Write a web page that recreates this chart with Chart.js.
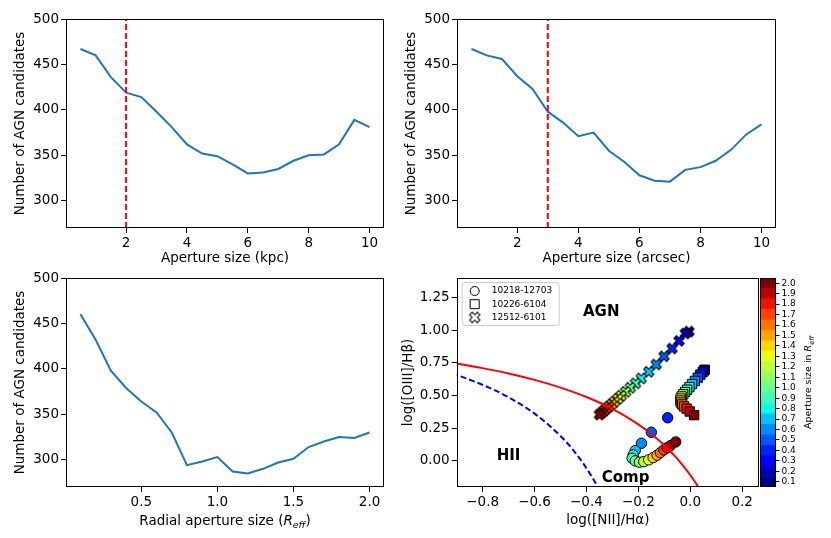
<!DOCTYPE html>
<html lang="en">
<head>
<meta charset="UTF-8">
<title>AGN candidates vs aperture size</title>
<script src="https://cdn.jsdelivr.net/npm/chart.js"></script>
<style>
  html, body { margin: 0; padding: 0; background: #fff; }
  #fig { position: relative; width: 831px; height: 538px; }
  #fig canvas { position: absolute; left: 0; top: 0; }
</style>
</head>
<body>
<div id="fig">
  <canvas id="kpc" width="831" height="538"></canvas>
  <canvas id="arcsec" width="831" height="538"></canvas>
  <canvas id="reff" width="831" height="538"></canvas>
  <canvas id="bpt" width="831" height="538"></canvas>
  <canvas id="cbar" width="831" height="538"></canvas>
</div>
<script>
// --- line panels ---
const kpcSizes = [0.5, 1, 1.5, 2, 2.5, 3, 3.5, 4, 4.5, 5, 5.5, 6, 6.5, 7, 7.5, 8, 8.5, 9, 9.5, 10];
const kpcCounts = [467, 460, 436, 419, 414, 398, 381, 362, 352, 349, 340, 330, 331, 335, 344, 350, 351, 362, 389, 381];
const arcsecSizes = [0.5, 1, 1.5, 2, 2.5, 3, 3.5, 4, 4.5, 5, 5.5, 6, 6.5, 7, 7.5, 8, 8.5, 9, 9.5, 10];
const arcsecCounts = [467, 460, 456, 437, 423, 398, 386, 371, 375, 355, 343, 328, 322, 321, 334, 337, 344, 356, 373, 384];
const reffSizes = [0.1, 0.2, 0.3, 0.4, 0.5, 0.6, 0.7, 0.8, 0.9, 1.0, 1.1, 1.2, 1.3, 1.4, 1.5, 1.6, 1.7, 1.8, 1.9, 2.0];
const reffCounts = [460, 432, 398, 379, 364, 352, 330, 294, 298, 303, 287, 285, 290, 297, 301, 314, 320, 325, 324, 330];
const kpcChosen = 2;
const arcsecChosen = 3;

const countTicks = [300, 350, 400, 450, 500];
const sizeTicks = [2, 4, 6, 8, 10];
const reffTicks = [0.5, 1.0, 1.5, 2.0];

// --- BPT panel ---
const galaxyNames = ['10218-12703', '10226-6104', '12512-6101'];
const apertureLevels = [0.1, 0.2, 0.3, 0.4, 0.5, 0.6, 0.7, 0.8, 0.9, 1.0, 1.1, 1.2, 1.3, 1.4, 1.5, 1.6, 1.7, 1.8, 1.9, 2.0];

const circAper = [0.4, 0.5, 0.6, 0.7, 0.8, 0.9, 1.0, 1.1, 1.2, 1.3, 1.4, 1.5, 1.6, 1.7, 1.8, 1.9, 2.0];
const circN2 = [-0.087, -0.150, -0.188, -0.212, -0.220, -0.224, -0.212, -0.196, -0.179, -0.160, -0.143, -0.128, -0.115, -0.102, -0.089, -0.076, -0.056];
const circO3 = [0.330, 0.219, 0.135, 0.079, 0.046, 0.020, 0.000, -0.010, -0.005, 0.008, 0.025, 0.043, 0.063, 0.084, 0.100, 0.117, 0.145];

const sqAper = [0.1, 0.2, 0.3, 0.4, 0.5, 0.6, 0.7, 0.8, 0.9, 1.0, 1.1, 1.2, 1.3, 1.4, 1.5, 1.6, 1.7, 1.8, 1.9, 2.0];
const sqN2 = [0.056, 0.053, 0.048, 0.039, 0.029, 0.018, 0.007, -0.003, -0.012, -0.020, -0.027, -0.033, -0.037, -0.038, -0.036, -0.031, -0.024, -0.014, -0.002, 0.015];
const sqO3 = [0.698, 0.692, 0.680, 0.660, 0.637, 0.612, 0.588, 0.565, 0.545, 0.527, 0.510, 0.493, 0.477, 0.462, 0.447, 0.432, 0.417, 0.400, 0.378, 0.350];

const crAper = [0.1, 0.2, 0.3, 0.4, 0.5, 0.6, 0.7, 0.8, 0.9, 1.0, 1.1, 1.2, 1.3, 1.4, 1.5, 1.6, 1.7, 1.8, 1.9, 2.0];
const crN2 = [-0.005, -0.019, -0.043, -0.070, -0.101, -0.131, -0.160, -0.189, -0.211, -0.231, -0.249, -0.266, -0.279, -0.292, -0.303, -0.314, -0.323, -0.332, -0.341, -0.350];
const crO3 = [0.990, 0.975, 0.919, 0.860, 0.800, 0.738, 0.682, 0.631, 0.593, 0.560, 0.529, 0.499, 0.476, 0.453, 0.433, 0.415, 0.400, 0.384, 0.369, 0.354];

// demarcation lines
const kewleyN2 = [-0.95, -0.9, -0.8, -0.7, -0.6, -0.5, -0.4, -0.3, -0.2, -0.15, -0.1, -0.05, 0.0, 0.03, 0.04];
const kewleyO3 = [0.762, 0.745, 0.710, 0.669, 0.620, 0.561, 0.489, 0.398, 0.280, 0.206, 0.120, 0.017, -0.108, -0.196, -0.228];
const kauffN2 = [-0.95, -0.9, -0.8, -0.7, -0.6, -0.5, -0.45, -0.4, -0.36, -0.35];
const kauffO3 = [0.693, 0.658, 0.582, 0.487, 0.362, 0.191, 0.080, -0.056, -0.188, -0.226];

const n2Ticks = [-0.8, -0.6, -0.4, -0.2, 0.0, 0.2];
const o3Ticks = [0.0, 0.25, 0.5, 0.75, 1.0, 1.25];
const regionLabels = [
  { text: 'AGN', x: -0.343, y: 1.14 },
  { text: 'HII', x: -0.700, y: 0.04 },
  { text: 'Comp', x: -0.249, y: -0.134 }
];

const FAMILY = "'DejaVu Sans', sans-serif";
Chart.defaults.font.family = FAMILY;
Chart.defaults.font.size = 13.5;
Chart.defaults.color = '#000';
Chart.defaults.animation = false;
Chart.defaults.plugins.legend.display = false;
Chart.defaults.plugins.tooltip.enabled = false;
Chart.defaults.layout.autoPadding = false;

// matplotlib jet, sampled into 20 levels
const JET = {
  r: [[0, 0], [0.35, 0], [0.66, 1], [0.89, 1], [1, 0.5]],
  g: [[0, 0], [0.125, 0], [0.375, 1], [0.64, 1], [0.91, 0], [1, 0]],
  b: [[0, 0.5], [0.11, 1], [0.34, 1], [0.65, 0], [1, 0]]
};
function seg(pts, t) {
  for (let i = 1; i < pts.length; i++) {
    if (t <= pts[i][0]) {
      const [x0, y0] = pts[i - 1], [x1, y1] = pts[i];
      return y0 + (y1 - y0) * (t - x0) / (x1 - x0);
    }
  }
  return pts[pts.length - 1][1];
}
function jet(a) {
  let idx = 0;
  apertureLevels.forEach((v, i) => { if (Math.abs(v - a) < Math.abs(apertureLevels[idx] - a)) idx = i; });
  const t = idx / (apertureLevels.length - 1);
  const c = k => Math.round(255 * seg(JET[k], t));
  return `rgb(${c('r')},${c('g')},${c('b')})`;
}

const markerCache = {};
function xMarker(fill) {
  if (markerCache[fill]) return markerCache[fill];
  const size = 11, dim = 16;
  const c = document.createElement('canvas');
  c.width = c.height = dim;
  const g = c.getContext('2d');
  const v = [[-1, -3], [1, -3], [1, -1], [3, -1], [3, 1], [1, 1], [1, 3], [-1, 3], [-1, 1], [-3, 1], [-3, -1], [-1, -1]];
  g.translate(dim / 2, dim / 2);
  g.rotate(Math.PI / 4);
  g.beginPath();
  v.forEach(([px, py], i) => {
    const X = px / 6 * size, Y = py / 6 * size;
    if (i) g.lineTo(X, Y); else g.moveTo(X, Y);
  });
  g.closePath();
  g.fillStyle = fill;
  g.fill();
  g.lineWidth = 1;
  g.strokeStyle = '#000';
  g.stroke();
  markerCache[fill] = c;
  return c;
}

// --- plugins ---
const frame = {
  id: 'frame',
  afterDraw(chart) {
    const { ctx, chartArea: a } = chart;
    ctx.save();
    ctx.strokeStyle = '#000';
    ctx.lineWidth = 1;
    ctx.strokeRect(Math.round(a.left) + 0.5, Math.round(a.top) + 0.5,
      Math.round(a.right - a.left) - 1, Math.round(a.bottom - a.top) - 1);
    ctx.restore();
  }
};

const chosen = {
  id: 'chosen',
  afterDatasetsDraw(chart, args, opts) {
    if (opts.value == null) return;
    const { ctx, chartArea: a } = chart;
    const x = chart.scales.x.getPixelForValue(opts.value);
    ctx.save();
    ctx.strokeStyle = '#ff0000';
    ctx.lineWidth = 2;
    ctx.setLineDash([6, 3]);
    ctx.beginPath();
    ctx.moveTo(x, a.bottom);
    ctx.lineTo(x, a.top);
    ctx.stroke();
    ctx.restore();
  }
};

function drawRich(ctx, parts, size, cx, cy, rot) {
  ctx.save();
  ctx.translate(cx, cy);
  ctx.rotate(rot || 0);
  const fonts = parts.map(p => `${p.it ? 'italic ' : ''}${p.sub ? size * 0.7 : size}px ${FAMILY}`);
  let w = 0;
  const widths = parts.map((p, i) => { ctx.font = fonts[i]; const m = ctx.measureText(p.t).width; w += m; return m; });
  let x = -w / 2;
  ctx.textBaseline = 'alphabetic';
  ctx.textAlign = 'left';
  ctx.fillStyle = '#000';
  const base = size * 0.36;
  parts.forEach((p, i) => {
    ctx.font = fonts[i];
    ctx.fillText(p.t, x, p.sub ? base + size * 0.22 : base);
    x += widths[i];
  });
  ctx.restore();
}

const richTitle = {
  id: 'richTitle',
  afterDraw(chart, args, opts) {
    if (!opts.parts) return;
    const a = chart.chartArea;
    if (opts.axis === 'x') {
      drawRich(chart.ctx, opts.parts, opts.size, (a.left + a.right) / 2, a.bottom + opts.offset, 0);
    } else {
      drawRich(chart.ctx, opts.parts, opts.size, a.right + opts.offset, (a.top + a.bottom) / 2, -Math.PI / 2);
    }
  }
};

const regions = {
  id: 'regions',
  afterDatasetsDraw(chart) {
    const { ctx } = chart;
    ctx.save();
    ctx.font = `bold 15px ${FAMILY}`;
    ctx.textAlign = 'center';
    ctx.textBaseline = 'middle';
    ctx.fillStyle = '#000';
    regionLabels.forEach(l => {
      ctx.fillText(l.text, chart.scales.x.getPixelForValue(l.x), chart.scales.y.getPixelForValue(l.y));
    });
    ctx.restore();
  }
};

const bptLegend = {
  id: 'bptLegend',
  afterDraw(chart) {
    const { ctx, chartArea: a } = chart;
    const x0 = a.left + 5, y0 = a.top + 4, w = 97, h = 43;
    ctx.save();
    ctx.beginPath();
    ctx.roundRect(x0 + 0.5, y0 + 0.5, w, h, 3);
    ctx.fillStyle = 'rgba(255,255,255,0.8)';
    ctx.fill();
    ctx.strokeStyle = '#cccccc';
    ctx.lineWidth = 1;
    ctx.stroke();
    const styles = ['circle', 'rect', 'x'];
    ctx.font = `9px ${FAMILY}`;
    ctx.textBaseline = 'middle';
    ctx.textAlign = 'left';
    galaxyNames.forEach((name, i) => {
      const mx = x0 + 13, my = y0 + 9 + i * 13.2;
      ctx.fillStyle = '#fff';
      ctx.strokeStyle = '#000';
      ctx.lineWidth = 1;
      if (styles[i] === 'circle') {
        ctx.beginPath(); ctx.arc(mx, my, 4.5, 0, Math.PI * 2); ctx.fill(); ctx.stroke();
      } else if (styles[i] === 'rect') {
        ctx.beginPath(); ctx.rect(mx - 4.5, my - 4.5, 9, 9); ctx.fill(); ctx.stroke();
      } else {
        const m = xMarker('#ffffff');
        ctx.drawImage(m, mx - m.width / 2, my - m.height / 2);
      }
      ctx.fillStyle = '#000';
      ctx.fillText(name, x0 + 30, my);
    });
    ctx.restore();
  }
};

// --- axis helpers ---
function axis(o) {
  return {
    type: 'linear',
    position: o.position || (o.vertical ? 'left' : 'bottom'),
    min: o.min, max: o.max,
    afterBuildTicks: s => { s.ticks = o.ticks.map(v => ({ value: v })); },
    afterFit: s => { if (o.vertical) s.width = o.size; else s.height = o.size; },
    ticks: { padding: 2, callback: o.fmt || (v => String(v)), maxRotation: 0, autoSkip: false, font: o.font },
    grid: { drawOnChartArea: false, drawTicks: true, tickLength: o.tickLength || 5, color: '#000', lineWidth: 1 },
    border: { display: false },
    title: o.title ? { display: true, text: o.title, padding: 0, font: { size: 13.5 } } : { display: false }
  };
}
const minus = v => (v < 0 ? '\u2212' : '') + Math.abs(v).toFixed(1);

function linePanel(id, xs, ys, opts) {
  return new Chart(document.getElementById(id), {
    type: 'scatter',
    data: {
      datasets: [{
        data: xs.map((x, i) => ({ x, y: ys[i] })),
        showLine: true,
        borderColor: '#1f77b4',
        borderWidth: 2,
        pointRadius: 0,
        tension: 0
      }]
    },
    options: {
      responsive: false,
      layout: { padding: opts.padding },
      scales: {
        x: axis({ min: opts.xmin, max: opts.xmax, ticks: opts.xticks, fmt: opts.xfmt, size: opts.xsize, title: opts.xtitle }),
        y: axis({ vertical: true, min: 270, max: 500, ticks: countTicks, size: opts.ysize, title: 'Number of AGN candidates' })
      },
      plugins: {
        chosen: { value: opts.chosen },
        richTitle: opts.rich || {}
      }
    },
    plugins: [frame, chosen, richTitle]
  });
}

linePanel('kpc', kpcSizes, kpcCounts, {
  padding: { left: 12.6, top: 19, right: 447, bottom: 271.6 },
  xmin: 0.025, xmax: 10.475, xticks: sizeTicks, xsize: 38.4, ysize: 53.4,
  xtitle: 'Aperture size (kpc)', chosen: kpcChosen
});

linePanel('arcsec', arcsecSizes, arcsecCounts, {
  padding: { left: 403.6, top: 19, right: 55, bottom: 271.6 },
  xmin: 0.025, xmax: 10.475, xticks: sizeTicks, xsize: 38.4, ysize: 53.4,
  xtitle: 'Aperture size (arcsec)', chosen: arcsecChosen
});

linePanel('reff', reffSizes, reffCounts, {
  padding: { left: 12.6, top: 278, right: 447, bottom: 9.6 },
  xmin: 0.005, xmax: 2.095, xticks: reffTicks, xfmt: v => v.toFixed(1), xsize: 41.4, ysize: 53.4,
  rich: {
    axis: 'x', size: 13.5, offset: 33.3,
    parts: [{ t: 'Radial aperture size (' }, { t: 'R', it: true }, { t: 'eff', it: true, sub: true }, { t: ')' }]
  }
});

// --- BPT diagram ---
function galaxySet(label, n2, o3, aper, style, order) {
  return {
    label, order,
    data: n2.map((x, i) => ({ x, y: o3[i], a: aper[i] })),
    showLine: false,
    pointRadius: style === 'rect' ? 6.6 : 5.2,
    pointStyle: style === 'x' ? (c => (c.raw ? xMarker(jet(c.raw.a)) : 'crossRot')) : style,
    pointBackgroundColor: c => (c.raw ? jet(c.raw.a) : '#fff'),
    pointBorderColor: '#000',
    pointBorderWidth: 1
  };
}

new Chart(document.getElementById('bpt'), {
  type: 'scatter',
  data: {
    datasets: [
      {
        label: 'Kewley', order: 0,
        data: kewleyN2.map((x, i) => ({ x, y: kewleyO3[i] })),
        showLine: true, borderColor: '#ff0000', borderWidth: 2, pointRadius: 0,
        cubicInterpolationMode: 'monotone', clip: 0
      },
      {
        label: 'Kauffmann', order: 0,
        data: kauffN2.map((x, i) => ({ x, y: kauffO3[i] })),
        showLine: true, borderColor: '#0000ff', borderWidth: 2, borderDash: [6, 3], pointRadius: 0,
        cubicInterpolationMode: 'monotone', clip: 0
      },
      galaxySet(galaxyNames[0], circN2, circO3, circAper, 'circle', 3),
      galaxySet(galaxyNames[1], sqN2, sqO3, sqAper, 'rect', 2),
      galaxySet(galaxyNames[2], crN2, crO3, crAper, 'x', 1)
    ]
  },
  options: {
    responsive: false,
    layout: { padding: { left: 400.2, top: 278, right: 72, bottom: 9.6 } },
    scales: {
      x: axis({ min: -0.9, max: 0.265, ticks: n2Ticks, fmt: minus, size: 41.4, title: 'log([NII]/H\u03b1)' }),
      y: axis({ vertical: true, min: -0.2, max: 1.4, ticks: o3Ticks, fmt: v => v.toFixed(2), size: 56.5, title: 'log([OIII]/H\u03b2)' })
    }
  },
  plugins: [frame, regions, bptLegend]
});

// --- colour bar ---
new Chart(document.getElementById('cbar'), {
  type: 'bar',
  data: {
    labels: [''],
    datasets: apertureLevels.map(a => ({
      data: [[a - 0.05, a + 0.05]],
      backgroundColor: jet(a),
      borderWidth: 0,
      grouped: false,
      barPercentage: 1,
      categoryPercentage: 1
    }))
  },
  options: {
    responsive: false,
    layout: { padding: { left: 760, top: 278, right: 25, bottom: 51 } },
    scales: {
      x: { display: false },
      y: axis({
        vertical: true, position: 'right', min: 0.05, max: 2.05, ticks: apertureLevels,
        fmt: v => v.toFixed(1), size: 30, tickLength: 3.5, font: { size: 9 }
      })
    },
    plugins: {
      richTitle: {
        axis: 'y', size: 9.5, offset: 32,
        parts: [{ t: 'Aperture size in ' }, { t: 'R', it: true }, { t: 'eff', it: true, sub: true }]
      }
    }
  },
  plugins: [frame, richTitle]
});
</script>
</body>
</html>
